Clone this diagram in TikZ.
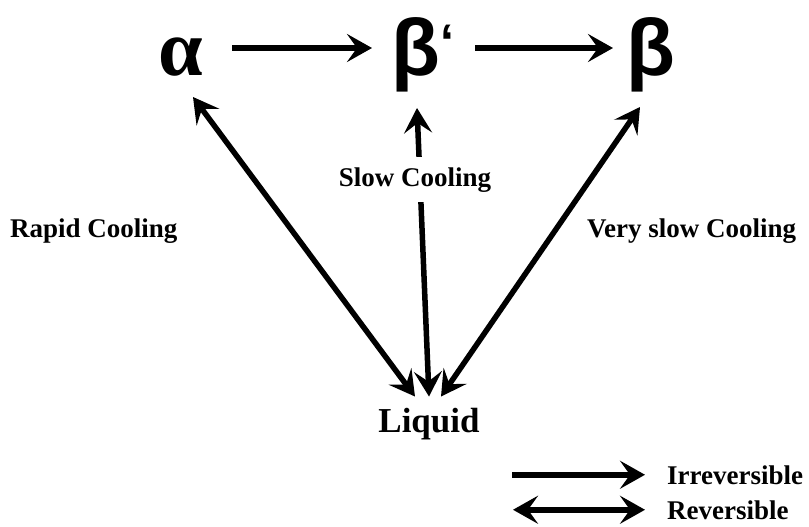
\documentclass[tikz,border=0pt]{standalone}
\usepackage{fontspec}
\setmainfont{Liberation Serif}
\newfontfamily\greeksans{Liberation Sans}
\usetikzlibrary{arrows.meta}
\begin{document}
\begin{tikzpicture}[x=1pt,y=-1pt,
  arr/.style={line width=5.5pt, -{Stealth[length=25pt,width=28pt,inset=10pt]}},
  darr/.style={line width=5.5pt, {Stealth[length=25pt,width=28pt,inset=10pt]}-{Stealth[length=25pt,width=28pt,inset=10pt]}},
  big/.style={inner sep=0pt, font=\fontsize{80}{82}\selectfont\bfseries},
  lbl/.style={inner sep=0pt, font=\fontsize{27}{30}\selectfont\bfseries},
  liq/.style={inner sep=0pt, font=\fontsize{35}{40}\selectfont\bfseries},
]
\fill[white] (0,0) rectangle (809,527);
\useasboundingbox (0,0) rectangle (809,527);

% main nodes
\node[big, anchor=base] (alpha) at (181,76) {α};
\node[big, anchor=base west] (bp) at (391.5,76) {\greeksans β\raisebox{16pt}{\fontsize{50}{50}\selectfont ‘}};
\node[big, anchor=base] (beta) at (651,76) {\greeksans β};
\node[liq, anchor=base] (liquid) at (429,432) {Liquid};

% side labels
\node[lbl, anchor=base west] (rapid) at (10,237) {Rapid Cooling};
\node[lbl, anchor=base west] (vslow) at (587,237) {Very slow Cooling};

% horizontal irreversible arrows
\draw[arr] ([xshift=51pt,yshift=28pt]alpha.base) -- ([xshift=-19.5pt,yshift=28pt]bp.base west);
\draw[arr] ([xshift=83.5pt,yshift=28pt]bp.base west) -- ([xshift=-38pt,yshift=28pt]beta.base);

% reversible arrows to liquid
\draw[darr] ([xshift=12pt,yshift=-21pt]alpha.base) -- ([xshift=-14pt,yshift=11pt]liquid.north);
\draw[darr] ([xshift=25.5pt,yshift=-32pt]bp.base west) -- ([yshift=11pt]liquid.north);
\draw[darr] ([xshift=-11pt,yshift=-31pt]beta.base) -- ([xshift=12pt,yshift=11pt]liquid.north);

% label over the middle arrow
\node[lbl, anchor=base, fill=white, inner xsep=2pt, inner ysep=10pt] (slow) at (415,186) {Slow Cooling};

% legend
\node[lbl, anchor=base west] (irr) at (667,484) {Irreversible};
\node[lbl, anchor=base west] (rev) at (667,519) {Reversible};
\draw[arr] ([xshift=-155pt]irr.west) -- ([xshift=-22pt]irr.west);
\draw[darr] ([xshift=-154pt]rev.west) -- ([xshift=-22pt]rev.west);
\end{tikzpicture}
\end{document}
